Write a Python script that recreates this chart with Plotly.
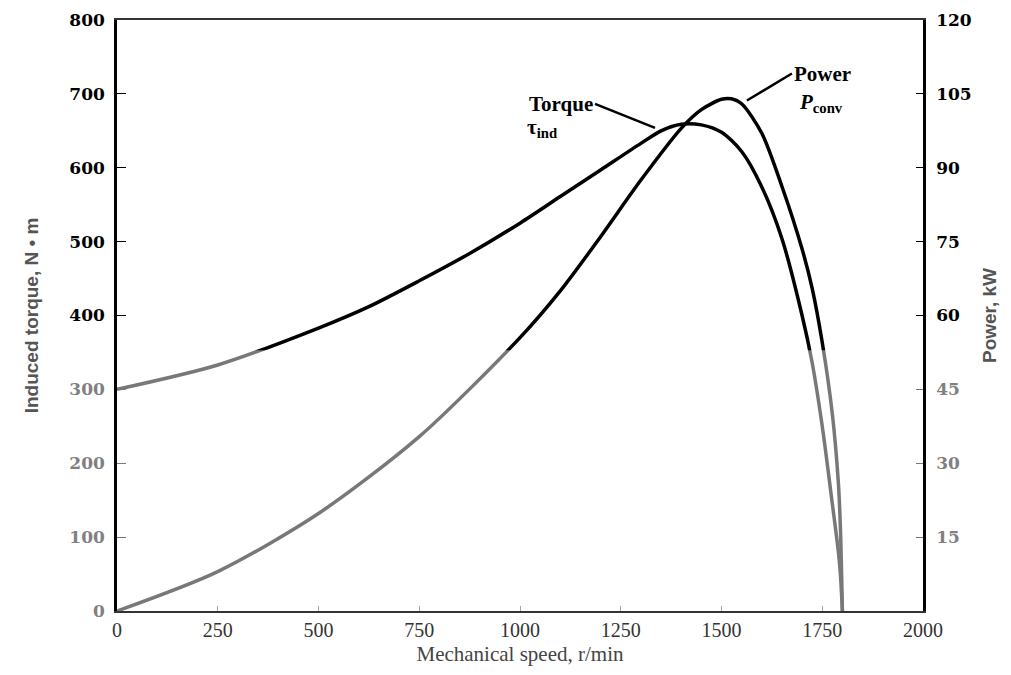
import plotly.graph_objects as go

# ---- data ----
speed_torque = [0, 250, 500, 625, 750, 875, 1000, 1100, 1200, 1300, 1350, 1400, 1450,
                1500, 1550, 1600, 1650, 1700, 1725, 1750, 1775, 1790, 1795, 1800]
torque_nm = [300, 333, 383, 412, 447, 484, 525, 561, 597, 633, 650, 659, 658,
             648, 622, 574, 504, 400, 336, 250, 145, 80, 50, 0]

speed_power = [0, 250, 500, 750, 1000, 1100, 1200, 1300, 1400, 1450, 1500, 1525,
               1550, 1600, 1650, 1700, 1725, 1750, 1775, 1790, 1795, 1800]
power_kw = [0, 8.0, 19.8, 35.4, 55.5, 65.0, 76.0, 87.5, 98.0, 101.8, 103.9, 104.0,
            103.0, 97.0, 86.2, 73.5, 65.5, 54.5, 40.0, 26.0, 17.0, 0]

x_ticks = [0, 250, 500, 750, 1000, 1250, 1500, 1750, 2000]
left_ticks = [0, 100, 200, 300, 400, 500, 600, 700, 800]
right_ticks = [15, 30, 45, 60, 75, 90, 105, 120]

GRAY = "#808080"
SERIF = "Liberation Serif, Times New Roman, serif"
BOLDSERIF = "DejaVu Serif, Liberation Serif, serif"
NARROW = "Liberation Sans Narrow, Arial Narrow, Liberation Sans, sans-serif"

def lab(v, gray):
    return f'<span style="color:{GRAY}">{v}</span>' if gray else f"{v}"

fig = go.Figure()
fig.add_trace(go.Scatter(x=speed_torque, y=torque_nm, mode="lines",
                         line=dict(color="black", width=3.5, shape="spline", smoothing=0.8),
                         name="Torque", yaxis="y"))
fig.add_trace(go.Scatter(x=speed_power, y=power_kw, mode="lines",
                         line=dict(color="black", width=3.5, shape="spline", smoothing=0.8),
                         name="Power", yaxis="y2"))

# scan-like graying of the lower part of the plot
fig.add_shape(type="rect", xref="x", yref="y", x0=0, x1=2000, y0=0, y1=353,
              fillcolor="rgba(255,255,255,0.47)", line=dict(width=0), layer="above")

ann_font = dict(family=SERIF, size=21, color="black", weight="bold")
fig.add_annotation(x=1335, y=654, xref="x", yref="y", text="<b>Torque</b>",
                   showarrow=True, arrowhead=0, arrowwidth=2.5, arrowcolor="black",
                   ax=-60, ay=-24, xanchor="right", font=ann_font)
fig.add_annotation(x=1012, y=654, xref="x", yref="y", xanchor="left",
                   text="<b>τ<sub>ind</sub></b>", showarrow=False, font=ann_font)
fig.add_annotation(x=1563, y=691, xref="x", yref="y", text="<b>Power</b>",
                   showarrow=True, arrowhead=0, arrowwidth=2.5, arrowcolor="black",
                   ax=45, ay=-27, xanchor="left", font=ann_font)
fig.add_annotation(x=1687, y=688, xref="x", yref="y", xanchor="left",
                   text="<b><i>P</i><sub>conv</sub></b>", showarrow=False, font=ann_font)

# page body has an 8px margin: figure sized so the plot area lands at 117..923 x 20..611
fig.update_layout(
    template="none",
    width=995, height=659,
    margin=dict(l=109, r=80, t=12, b=56, autoexpand=False),
    plot_bgcolor="white", paper_bgcolor="white",
    showlegend=False,
    font=dict(family=SERIF, color="black"),
    xaxis=dict(range=[0, 2000], tickvals=x_ticks, ticktext=[str(v) for v in x_ticks],
               automargin=False,
               ticks="inside", ticklen=5, tickcolor="#555", showgrid=False, zeroline=False,
               showline=True, linecolor="#333", linewidth=2, mirror=True,
               tickfont=dict(family=SERIF, size=20, color="#333"),
               title=dict(text="Mechanical speed, r/min", standoff=6,
                          font=dict(family=SERIF, size=21, color="#444"))),
    yaxis=dict(range=[0, 800], tickvals=left_ticks,
               ticktext=[lab(v, v <= 300) for v in left_ticks],
               automargin=False,
               ticks="inside", ticklen=9, tickcolor="black", showgrid=False, zeroline=False,
               showline=True, linecolor="black", linewidth=2.5,
               ticklabelstandoff=6,
               tickfont=dict(family=BOLDSERIF, size=17, color="black", weight="bold"),
               title=dict(text="Induced torque, N • m", standoff=26,
                          font=dict(family=NARROW, size=19, color="#555", weight="bold"))),
    yaxis2=dict(range=[0, 120], tickvals=right_ticks,
                ticktext=[lab(v, v <= 45) for v in right_ticks],
                automargin=False,
                overlaying="y", side="right",
                ticks="inside", ticklen=7, tickcolor="black", showgrid=False, zeroline=False,
                showline=True, linecolor="black", linewidth=2.5,
                ticklabelstandoff=7,
                tickfont=dict(family=BOLDSERIF, size=17, color="black", weight="bold"),
                title=dict(text="Power, kW", standoff=12,
                           font=dict(family=NARROW, size=19, color="#555", weight="bold"))),
)

fig.write_html("out.html")
